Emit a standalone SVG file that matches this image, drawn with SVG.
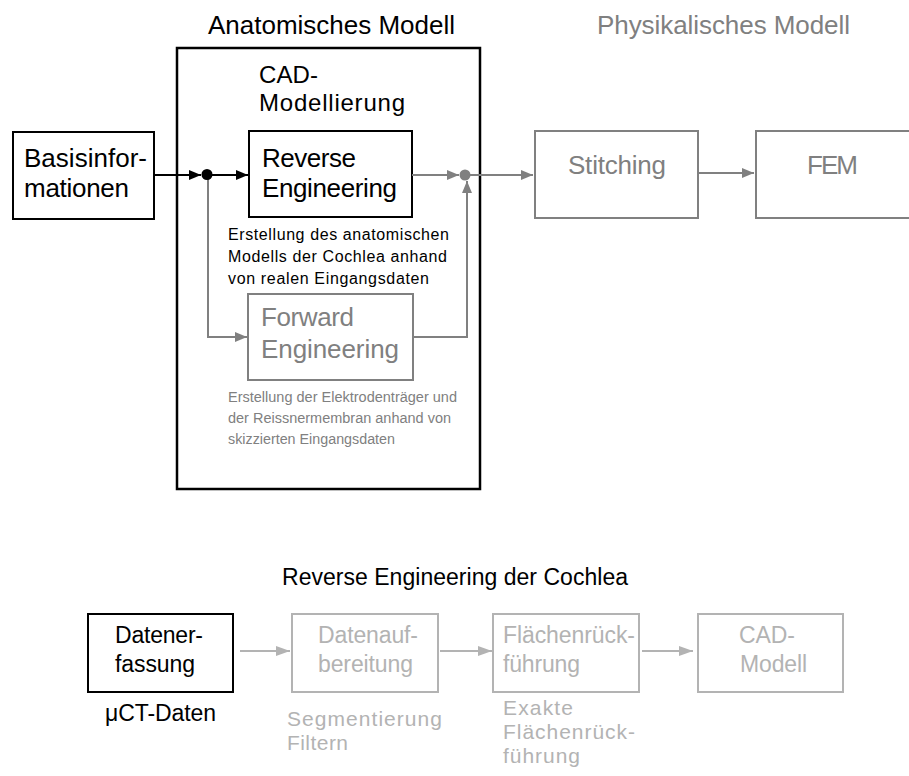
<svg xmlns="http://www.w3.org/2000/svg" width="909" height="776" viewBox="0 0 909 776">
<defs>
<style>
text{font-family:"Liberation Sans",Arial,sans-serif;}
.t25{font-size:26px;}
.t24{font-size:24px;}
.t16{font-size:16px;}
.t14{font-size:14px;}
.t23{font-size:23px;}
.t21{font-size:21px;}
.blk{fill:#000;}
.gry{fill:#808080;}
.lgt{fill:#b3b3b3;}
.bx{fill:#fff;stroke-width:2;}
.bk{stroke:#000;}
.gs{stroke:#808080;}
.ls{stroke:#b3b3b3;}
.ln{fill:none;stroke-width:2;}
</style>
<marker id="ab" viewBox="0 0 12 10" refX="12" refY="5" markerWidth="12" markerHeight="10" markerUnits="userSpaceOnUse" orient="auto"><path d="M0,0 L12,5 L0,10 Z" fill="#000"/></marker>
<marker id="ag" viewBox="0 0 12 10" refX="12" refY="5" markerWidth="12" markerHeight="10" markerUnits="userSpaceOnUse" orient="auto"><path d="M0,0 L12,5 L0,10 Z" fill="#808080"/></marker>
<marker id="al" viewBox="0 0 14 10" refX="14" refY="5" markerWidth="14" markerHeight="10" markerUnits="userSpaceOnUse" orient="auto"><path d="M0,0 L14,5 L0,10 Z" fill="#b3b3b3"/></marker>
</defs>
<rect width="909" height="776" fill="#fff"/>

<g id="anatomisches-modell">
<text class="t25 blk" x="208" y="34" textLength="247">Anatomisches Modell</text>
<rect x="177" y="48" width="303" height="441" fill="none" stroke="#000" stroke-width="2.5"/>
<text class="t24 blk" x="259" y="83" textLength="59">CAD-</text>
<text class="t24 blk" x="259" y="111" textLength="146">Modellierung</text>
</g>

<g id="physikalisches-modell">
<text class="t25 gry" x="597" y="34" textLength="253">Physikalisches Modell</text>
</g>

<g id="basisinformationen">
<rect class="bx bk" x="13" y="132" width="141" height="87"/>
<text class="t25 blk" x="24" y="167" textLength="123">Basisinfor-</text>
<text class="t25 blk" x="24" y="197" textLength="105">mationen</text>
</g>

<g id="reverse-engineering">
<rect class="bx bk" x="249" y="131" width="163" height="86"/>
<text class="t25 blk" x="262" y="167" textLength="94">Reverse</text>
<text class="t25 blk" x="262" y="197" textLength="135">Engineering</text>
<text class="t16 blk" x="228" y="240" textLength="221">Erstellung des anatomischen</text>
<text class="t16 blk" x="228" y="262" textLength="219">Modells der Cochlea anhand</text>
<text class="t16 blk" x="228" y="284" textLength="201">von realen Eingangsdaten</text>
</g>

<g id="forward-engineering">
<rect class="bx gs" x="248" y="294" width="165" height="86"/>
<text class="t25 gry" x="261" y="326" textLength="93">Forward</text>
<text class="t25 gry" x="261" y="358" textLength="138">Engineering</text>
<text class="t14 gry" x="228" y="402" textLength="229" lengthAdjust="spacingAndGlyphs">Erstellung der Elektrodenträger und</text>
<text class="t14 gry" x="228" y="423" textLength="223" lengthAdjust="spacingAndGlyphs">der Reissnermembran anhand von</text>
<text class="t14 gry" x="228" y="444" textLength="167" lengthAdjust="spacingAndGlyphs">skizzierten Eingangsdaten</text>
</g>

<g id="stitching">
<rect class="bx gs" x="535" y="131" width="163" height="87"/>
<text class="t25 gry" x="568" y="174" textLength="98">Stitching</text>
</g>

<g id="fem">
<rect class="bx gs" x="756" y="131" width="165" height="87"/>
<text class="t25 gry" x="807" y="174" textLength="51">FEM</text>
</g>

<g id="re-title">
<text class="t23 blk" x="282" y="585" textLength="346">Reverse Engineering der Cochlea</text>
</g>

<g id="datenerfassung">
<rect class="bx bk" x="88" y="614" width="145" height="78"/>
<text class="t23 blk" x="115" y="643" textLength="88">Datener-</text>
<text class="t23 blk" x="115" y="672" textLength="80">fassung</text>
<text class="t23 blk" x="105" y="721" textLength="111">μCT-Daten</text>
</g>

<g id="datenaufbereitung">
<rect class="bx ls" x="292" y="614" width="146" height="78"/>
<text class="t23 lgt" x="318" y="643" textLength="100">Datenauf-</text>
<text class="t23 lgt" x="318" y="672" textLength="95">bereitung</text>
<text class="t21 lgt" x="287" y="726" textLength="155">Segmentierung</text>
<text class="t21 lgt" x="287" y="750" textLength="61">Filtern</text>
</g>

<g id="flaechenrueckfuehrung">
<rect class="bx ls" x="493" y="614" width="146" height="78"/>
<text class="t23 lgt" x="503" y="643" textLength="132">Flächenrück-</text>
<text class="t23 lgt" x="503" y="672" textLength="77">führung</text>
<text class="t21 lgt" x="503" y="715" textLength="70">Exakte</text>
<text class="t21 lgt" x="503" y="739" textLength="132">Flächenrück-</text>
<text class="t21 lgt" x="503" y="763" textLength="77">führung</text>
</g>

<g id="cad-modell">
<rect class="bx ls" x="698" y="614" width="145" height="78"/>
<text class="t23 lgt" x="739" y="643" textLength="56">CAD-</text>
<text class="t23 lgt" x="740" y="672" textLength="67">Modell</text>
</g>

<g id="connectors">
<line class="ln bk" x1="154" y1="175" x2="201" y2="175" marker-end="url(#ab)"/>
<line class="ln bk" x1="207" y1="175" x2="248" y2="175" marker-end="url(#ab)"/>
<polyline class="ln gs" points="208,178 208,337 247,337" marker-end="url(#ag)"/>
<circle cx="207" cy="174.5" r="5.5" fill="#000"/>
<line class="ln gs" x1="412" y1="175" x2="459" y2="175" marker-end="url(#ag)"/>
<polyline class="ln gs" points="413,337 467,337 467,181" marker-end="url(#ag)"/>
<circle cx="465" cy="175" r="5.5" fill="#808080"/>
<line class="ln gs" x1="465" y1="175" x2="533" y2="175" marker-end="url(#ag)"/>
<line class="ln gs" x1="698" y1="173" x2="754" y2="173" marker-end="url(#ag)"/>
<line class="ln ls" x1="240" y1="651" x2="290" y2="651" marker-end="url(#al)"/>
<line class="ln ls" x1="440" y1="651" x2="492" y2="651" marker-end="url(#al)"/>
<line class="ln ls" x1="642" y1="651" x2="693" y2="651" marker-end="url(#al)"/>
</g>
</svg>
